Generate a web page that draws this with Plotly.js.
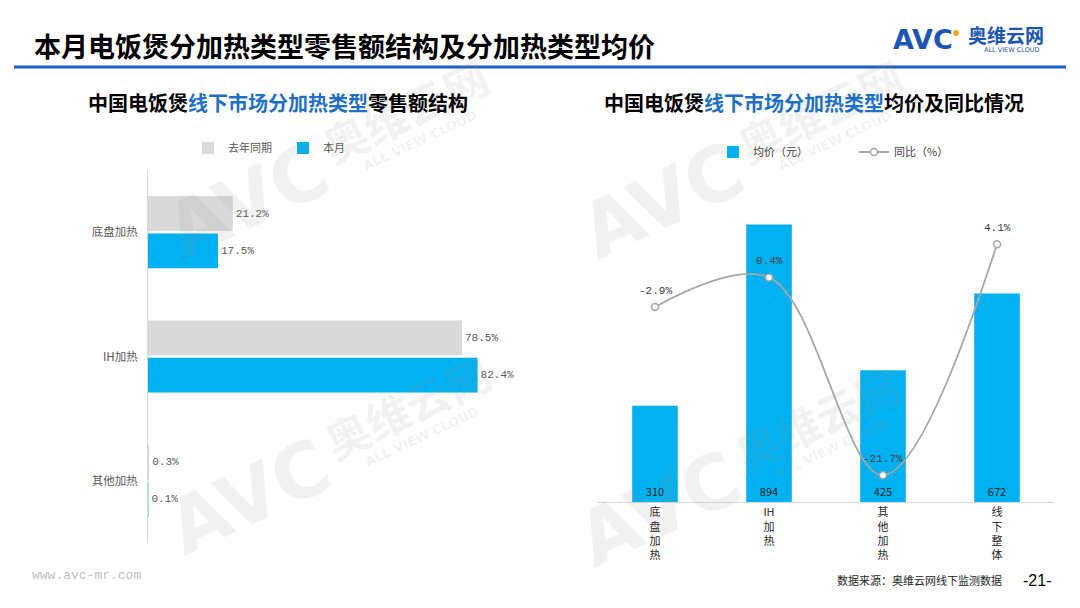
<!DOCTYPE html>
<html>
<head>
<meta charset="utf-8">
<script src="https://cdn.plot.ly/plotly-3.0.1.min.js"></script>
<style>html,body{margin:0;padding:0;background:#fff;overflow:hidden;}#chart{width:1080px;height:608px;}</style>
</head>
<body>
<div id="chart"></div>
<script>
// ---- data ----
const catsL = ['底盘加热', 'IH加热', '其他加热'];
const lastYearShare = [21.2, 78.5, 0.3];
const thisMonthShare = [17.5, 82.4, 0.1];
const catsR = ['底盘加热', 'IH加热', '其他加热', '线下整体'];
const catLabelsR = ['底<br>盘<br>加<br>热', 'IH<br>加<br>热', '其<br>他<br>加<br>热', '线<br>下<br>整<br>体'];
const avgPrice = [310, 894, 425, 672];
const yoyPct = [-2.9, 0.4, -21.7, 4.1];

const W = 1080, H = 608;
const px = x => x / W;
const py = y => 1 - y / H;
const CJK = '"Noto Sans CJK SC", "Microsoft YaHei", sans-serif';
const MONO = '"Liberation Mono", monospace';
const BLUE = '#00b0f0';
const GRAY = '#d9d9d9';

const traces = [
  {
    type: 'bar', orientation: 'h', name: '去年同期',
    y: catsL, x: lastYearShare, xaxis: 'x', yaxis: 'y',
    offset: -0.29, width: 0.28,
    marker: {color: GRAY},
    texttemplate: '%{x:.1f}%', textposition: 'outside', constraintext: 'none', cliponaxis: false,
    textfont: {family: MONO, size: 11, color: '#595959'},
    hoverinfo: 'skip', legend: 'legend'
  },
  {
    type: 'bar', orientation: 'h', name: '本月',
    y: catsL, x: thisMonthShare, xaxis: 'x', yaxis: 'y',
    offset: 0.01, width: 0.28,
    marker: {color: BLUE},
    texttemplate: '%{x:.1f}%', textposition: 'outside', constraintext: 'none', cliponaxis: false,
    textfont: {family: MONO, size: 11, color: '#595959'},
    hoverinfo: 'skip', legend: 'legend'
  },
  {
    type: 'bar', name: '均价（元）',
    x: catsR, y: avgPrice, xaxis: 'x2', yaxis: 'y2',
    width: 0.4,
    marker: {color: BLUE},
    texttemplate: '%{y}', textposition: 'inside', insidetextanchor: 'start', constraintext: 'none',
    insidetextfont: {family: CJK, size: 11, color: '#262626'},
    hoverinfo: 'skip', legend: 'legend2'
  },
  {
    type: 'scatter', name: '同比（%）', mode: 'lines+markers',
    x: catsR, y: yoyPct, xaxis: 'x2', yaxis: 'y3',
    line: {color: '#a6a6a6', width: 1.8, shape: 'spline'},
    marker: {color: '#ffffff', size: 7, line: {color: '#a6a6a6', width: 1.5}},
    cliponaxis: false, hoverinfo: 'skip', legend: 'legend2'
  }
];

// line value labels, placed through the data axes
const lineLabels = catsR.map((c, i) => ({
  xref: 'x2', yref: 'y3', x: c, y: yoyPct[i], yshift: 16, showarrow: false,
  text: yoyPct[i].toFixed(1) + '%', xanchor: 'center', yanchor: 'middle',
  font: {family: MONO, size: 11, color: '#404040'}
}));

// watermark helper
const wm = [];
function addWM(dx, dy) {
  const c = 'rgba(150,150,150,0.13)';
  const base = {xref: 'paper', yref: 'paper', showarrow: false, textangle: -25, xanchor: 'center', yanchor: 'middle'};
  wm.push(Object.assign({}, base, {x: px(247 + dx), y: py(200 + dy), text: '<b>AVC</b>',
    font: {family: '"DejaVu Sans", sans-serif', size: 76, color: c}}));
  wm.push(Object.assign({}, base, {x: px(405 + dx), y: py(110 + dy), text: '<b>奥维云网</b>',
    font: {family: CJK, size: 44, color: c}}));
  wm.push(Object.assign({}, base, {x: px(420 + dx), y: py(140 + dy), text: '<b>ALL VIEW CLOUD</b>',
    font: {family: '"DejaVu Sans", sans-serif', size: 13, color: c}}));
}
addWM(0, 0);
addWM(2, 296);
addWM(415, 0);
addWM(412, 308);

const annotations = wm.concat(lineLabels, [
  {xref: 'paper', yref: 'paper', x: px(32), y: py(45), xanchor: 'left', yanchor: 'middle', showarrow: false,
    text: '<b>本月电饭煲分加热类型零售额结构及分加热类型均价</b>',
    font: {family: CJK, size: 27, color: '#000000'}},
  {xref: 'paper', yref: 'paper', x: px(86), y: py(102), xanchor: 'left', yanchor: 'middle', showarrow: false,
    text: '<b>中国电饭煲<span style="color:#1f6fc5">线下市场分加热类型</span>零售额结构</b>',
    font: {family: CJK, size: 20, color: '#000000'}},
  {xref: 'paper', yref: 'paper', x: px(602), y: py(102), xanchor: 'left', yanchor: 'middle', showarrow: false,
    text: '<b>中国电饭煲<span style="color:#1f6fc5">线下市场分加热类型</span>均价及同比情况</b>',
    font: {family: CJK, size: 20, color: '#000000'}},
  // logo
  {xref: 'paper', yref: 'paper', x: px(891), y: py(39), xanchor: 'left', yanchor: 'middle', showarrow: false,
    text: '<b>AVC</b>', font: {family: '"DejaVu Sans", sans-serif', size: 27, color: '#1c55b3'}},
  {xref: 'paper', yref: 'paper', x: px(1006), y: py(35), xanchor: 'center', yanchor: 'middle', showarrow: false,
    text: '<b>奥维云网</b>', font: {family: CJK, size: 19, color: '#1c55b3'}},
  {xref: 'paper', yref: 'paper', x: px(1012), y: py(50), xanchor: 'center', yanchor: 'middle', showarrow: false,
    text: 'ALL VIEW CLOUD', font: {family: '"DejaVu Sans", sans-serif', size: 6.5, color: '#1c55b3'}},
  // footer
  {xref: 'paper', yref: 'paper', x: px(30), y: py(575), xanchor: 'left', yanchor: 'middle', showarrow: false,
    text: 'www.avc-mr.com', font: {family: MONO, size: 13, color: '#c0c0c0'}},
  {xref: 'paper', yref: 'paper', x: px(1004), y: py(580), xanchor: 'right', yanchor: 'middle', showarrow: false,
    text: '数据来源：奥维云网线下监测数据', font: {family: CJK, size: 11, color: '#262626'}},
  {xref: 'paper', yref: 'paper', x: px(1037), y: py(580), xanchor: 'center', yanchor: 'middle', showarrow: false,
    text: '-21-', font: {family: '"Liberation Sans", sans-serif', size: 16, color: '#000000'}}
]);

const layout = {
  width: W, height: H,
  margin: {l: 0, r: 0, t: 0, b: 0, pad: 0, autoexpand: false},
  paper_bgcolor: '#ffffff', plot_bgcolor: 'rgba(0,0,0,0)',
  font: {family: CJK, size: 11, color: '#595959'},
  barmode: 'overlay',
  showlegend: true,
  xaxis: {domain: [px(148), px(548)], range: [0, 100], visible: false, fixedrange: true},
  yaxis: {domain: [py(543), py(170)], type: 'category', range: [2.5, -0.5],
    showline: true, linecolor: '#d9d9d9', linewidth: 1, showgrid: false, zeroline: false,
    ticks: '', ticklabelstandoff: 7, tickfont: {family: CJK, size: 11.5, color: '#595959'}},
  xaxis2: {domain: [px(598), px(1054)], type: 'category', range: [-0.5, 3.5], anchor: 'y2',
    tickvals: catsR, ticktext: catLabelsR,
    showline: true, linecolor: '#d9d9d9', linewidth: 1, showgrid: false, ticks: '',
    tickfont: {family: CJK, size: 11, color: '#262626'}},
  yaxis2: {domain: [py(502), py(170)], range: [0, 1070], anchor: 'x2', visible: false, showgrid: false},
  yaxis3: {overlaying: 'y2', range: [-24.7, 12.4], anchor: 'x2', visible: false, showgrid: false},
  legend: {orientation: 'h', x: px(188), y: py(148), xanchor: 'left', yanchor: 'middle',
    font: {family: CJK, size: 11, color: '#595959'}, entrywidth: 50, entrywidthmode: 'pixels',
    itemwidth: 30, bgcolor: 'rgba(0,0,0,0)'},
  legend2: {orientation: 'h', x: px(713), y: py(152), xanchor: 'left', yanchor: 'middle',
    font: {family: CJK, size: 11, color: '#404040'}, entrywidth: 96, entrywidthmode: 'pixels',
    itemwidth: 30, bgcolor: 'rgba(0,0,0,0)'},
  shapes: [
    {type: 'line', xref: 'paper', yref: 'paper', x0: px(14), x1: px(1066), y0: py(67), y1: py(67),
      line: {color: '#1f5fbf', width: 3}},
    {type: 'circle', xref: 'paper', yref: 'paper', x0: px(953), x1: px(959), y0: py(36), y1: py(30),
      fillcolor: '#f5a623', line: {width: 0}}
  ],
  annotations: annotations
};

Plotly.newPlot('chart', traces, layout, {displayModeBar: false, staticPlot: true});
</script>
</body>
</html>
